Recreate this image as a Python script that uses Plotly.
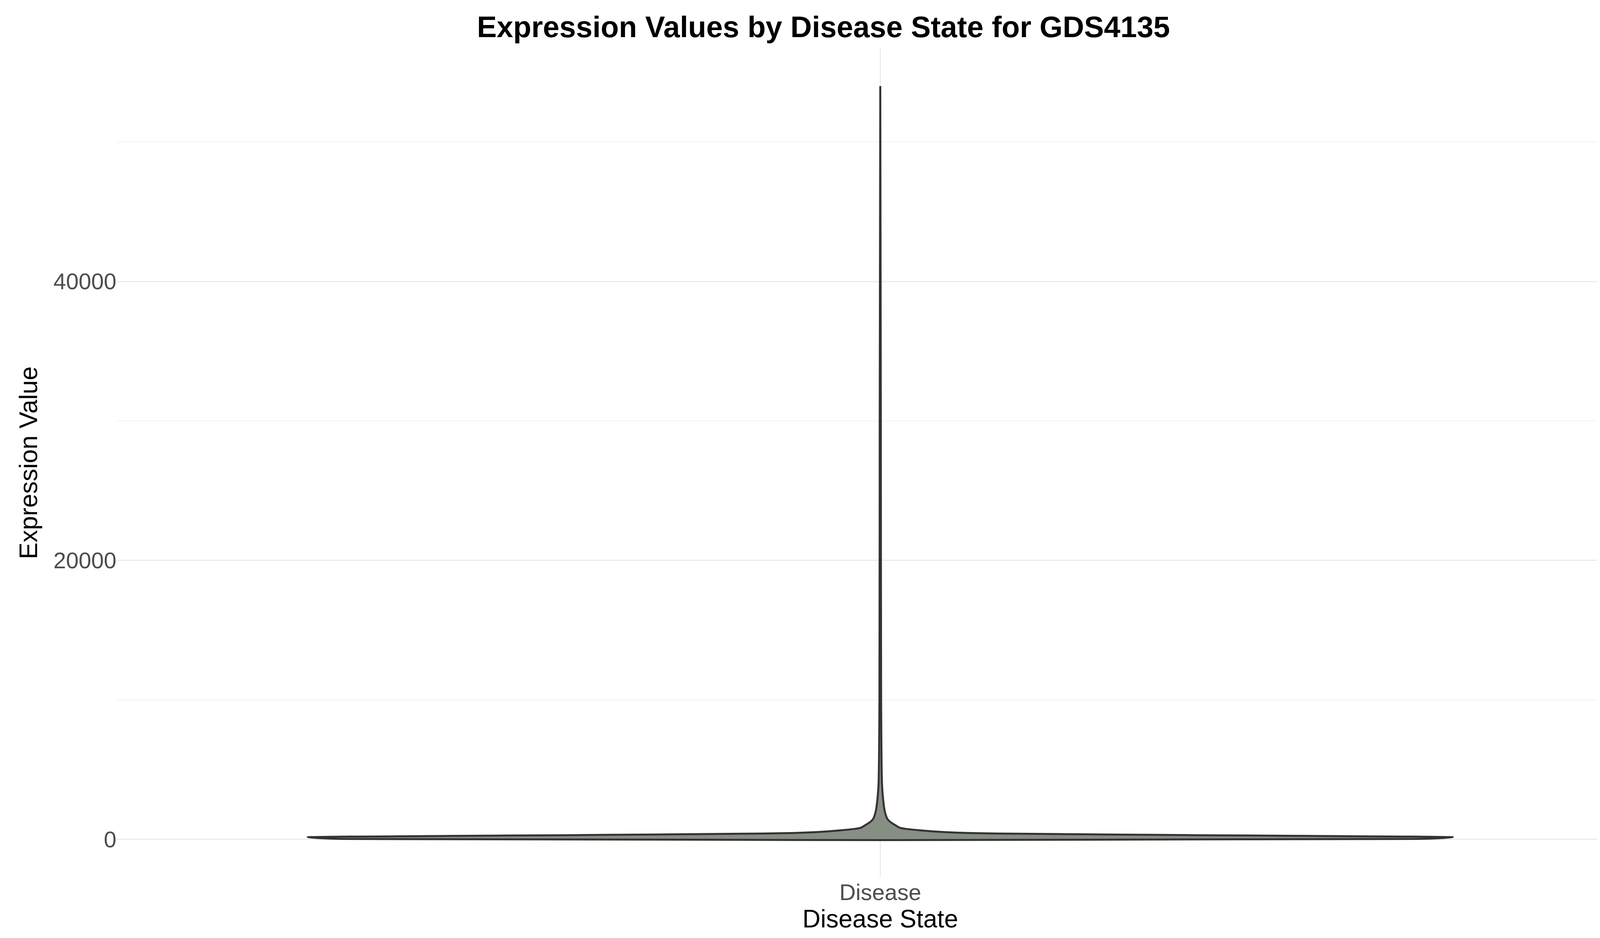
import plotly.graph_objects as go

category = "Disease"
# density profile: expression level vs relative half-width
expr_levels = [30, 150, 250, 300, 350, 400, 450, 550, 650, 750, 850, 1000, 1100, 1300, 1500, 2000, 2500, 4000, 10000, 30000, 54000]
rel_width = [0.94, 1.0, 0.75, 0.55, 0.4, 0.25, 0.16, 0.1, 0.07, 0.045, 0.033, 0.027, 0.023, 0.016, 0.012, 0.008, 0.006, 0.003, 0.0015, 0.001, 0.0]
y_ticks = [0, 20000, 40000]

half = 0.45
xs = [1 + half * w for w in rel_width] + [1 - half * w for w in reversed(rel_width)]
ys = expr_levels + list(reversed(expr_levels))
xs.append(xs[0]); ys.append(ys[0])

fig = go.Figure(go.Scatter(x=xs, y=ys, mode="lines", fill="toself",
                           fillcolor="#878e84", line=dict(color="#333333", width=5, shape="spline", smoothing=0.6),
                           hoverinfo="skip", showlegend=False))
font = "Liberation Sans, Arial, sans-serif"
fig.update_layout(
    width=4200, height=2400, plot_bgcolor="white", paper_bgcolor="white",
    margin=dict(l=291, r=0, t=116, b=164, autoexpand=False),
    title=dict(text="<b>Expression Values by Disease State for GDS4135</b>", x=0.5, xanchor="center",
               y=0.975, yanchor="middle", font=dict(family=font, size=76, color="black")),
    xaxis=dict(range=[0.4, 1.6], tickvals=[1], ticktext=[category], showgrid=True, gridcolor="#ebebeb",
               gridwidth=3, zeroline=False, ticks="", automargin=False,
               tickfont=dict(family=font, size=58, color="#4d4d4d"),
               title=dict(text="Disease State", font=dict(family=font, size=64, color="black"), standoff=10)),
    yaxis=dict(range=[-2700, 56700], tickvals=y_ticks, tickformat="d", showgrid=True, gridcolor="#ebebeb", gridwidth=3,
               zeroline=False, ticks="", automargin=False,
               tickfont=dict(family=font, size=58, color="#4d4d4d"),
               minor=dict(dtick=10000, showgrid=True, gridcolor="#f3f3f3", gridwidth=2),
               title=dict(text="Expression Value", font=dict(family=font, size=64, color="black"), standoff=20)),
)
fig.write_html("out.html")
